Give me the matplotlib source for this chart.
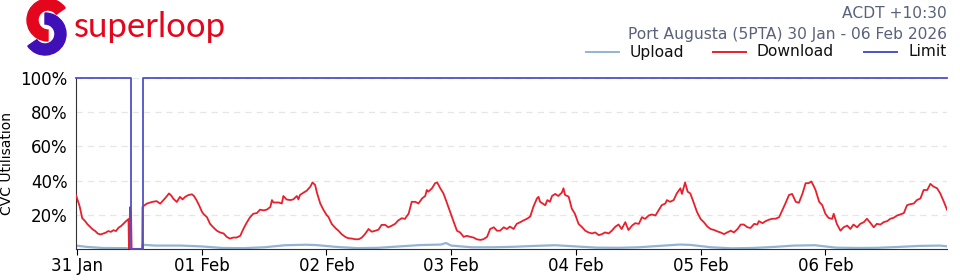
import matplotlib
matplotlib.use("Agg")
import matplotlib.pyplot as plt
import numpy as np
from matplotlib.patches import Wedge, Polygon

# hours since 31 Jan 00:00 (ACDT)
dl_hours = [-0.2, 0.5, 1.0, 1.5, 2.0, 2.5, 3.0, 3.5, 4.0, 4.5, 5.0, 5.5, 6.0, 6.5, 7.0, 7.5, 8.0, 8.5, 9.0, 9.5, 9.9,
            10.0, 10.2, 10.4, 10.5, 12.55,
            12.6, 12.75, 13.4, 14.4, 15.3, 16.0, 16.9, 17.7, 18.2, 18.5, 19.2, 19.8, 20.3, 20.8, 21.4, 22.1, 22.5, 23.0, 23.5,
            24.0, 24.3, 25.0, 25.6, 26.2, 26.9, 27.5, 28.2, 28.8, 29.4, 30.1, 30.7, 31.4, 32.0, 32.7, 33.3, 33.9, 34.6,
            35.2, 35.9, 36.5, 37.2, 37.5, 37.8, 38.8, 39.4, 39.7, 40.3, 41.0, 41.6, 42.3, 42.6, 42.9, 43.6, 44.2, 44.9,
            45.3, 45.8, 46.2, 46.8, 47.4,
            48.0, 48.4, 49.0, 49.7, 50.3, 50.9, 51.6, 52.2, 52.9, 53.5, 54.2, 54.8, 55.4, 56.1, 56.7, 57.4, 58.0, 58.6,
            59.3, 59.9, 60.6, 61.2, 61.8, 62.5, 63.1, 63.4, 63.8, 64.4, 65.1, 65.7, 66.4, 67.0, 67.3, 67.6, 68.3, 68.9,
            69.3, 69.9, 70.5, 71.1, 71.8,
            72.4, 73.1, 73.7, 74.4, 75.0, 75.7, 76.3, 76.9, 77.6, 78.2, 78.9, 79.5, 80.2, 80.8, 81.4, 82.1, 82.7, 83.3,
            84.0, 84.6, 85.3, 85.9, 86.6, 87.2, 87.8, 88.5, 88.8, 89.1, 90.1, 90.5, 91.0, 91.4, 92.0, 92.6, 93.3, 93.6,
            93.9, 94.6, 95.2, 95.8,
            96.5, 97.2, 97.8, 98.4, 99.1, 99.7, 100.4, 101.0, 101.6, 102.3, 102.9, 103.6, 104.2, 104.8, 105.5, 106.1,
            106.8, 107.4, 108.1, 108.7, 109.3, 110.0, 110.6, 111.3, 111.9, 112.5, 113.2, 113.5, 114.1, 114.8, 115.4,
            116.1, 116.4, 117.0, 117.5, 118.0, 118.6, 119.3,
            120.0, 120.6, 121.3, 121.9, 122.6, 123.2, 123.8, 124.5, 125.1, 125.8, 126.4, 127.1, 127.7, 128.3, 129.0,
            129.6, 130.3, 130.9, 131.2, 131.9, 132.5, 133.1, 133.8, 134.4, 135.1, 135.7, 136.3, 137.0, 137.6, 138.3,
            138.9, 139.6, 140.2, 140.8, 141.3, 141.8, 142.1, 142.8, 143.4,
            144.0, 144.6, 145.3, 145.6, 146.2, 146.9, 147.5, 148.2, 148.8, 149.4, 150.1, 150.7, 151.4, 152.0, 152.7,
            153.3, 153.9, 154.6, 155.2, 155.9, 156.5, 157.1, 157.8, 158.4, 159.1, 159.7, 160.3, 161.0, 161.6, 162.3,
            162.9, 163.6, 164.2, 164.8, 165.5, 166.1, 166.8, 167.4]
dl_values = [31.5, 25.0, 18.0, 16.5, 14.5, 13.0, 11.5, 10.5, 9.0, 8.5, 9.0, 9.5, 10.5, 10.0, 11.0, 10.5, 12.5, 13.5, 15.0, 16.5, 17.5,
             0.0, 24.5, 20.0, 0.0, 0.0,
             24.5, 25.0, 26.5, 27.5, 28.0, 26.5, 29.5, 32.5, 31.0, 29.5, 27.5, 30.5, 29.0, 30.5, 31.5, 32.0, 31.0, 28.5, 25.5,
             22.0, 20.6, 18.6, 14.7, 12.7, 10.7, 9.7, 9.1, 7.1, 6.1, 6.7, 6.7, 7.7, 11.7, 15.7, 18.6, 20.6, 21.0,
             23.0, 22.6, 23.0, 24.6, 28.6, 27.2, 27.2, 26.6, 31.0, 29.0, 28.6, 29.0, 31.0, 29.0, 31.6, 33.0, 34.1, 36.5,
             38.9, 37.5, 32.5, 26.6, 23.0,
             20.0, 18.6, 14.7, 12.3, 10.7, 8.7, 7.1, 6.3, 6.1, 5.7, 5.7, 6.7, 8.7, 11.7, 10.1, 10.7, 11.3, 14.1,
             14.1, 12.7, 13.7, 14.7, 16.7, 18.0, 17.6, 19.0, 20.6, 27.6, 27.6, 26.6, 29.6, 31.0, 34.5, 33.5, 35.5, 38.5,
             38.9, 35.5, 32.5, 27.6, 21.6,
             16.5, 10.7, 9.7, 7.1, 7.7, 7.1, 6.7, 5.7, 5.3, 5.7, 7.1, 11.7, 12.7, 10.7, 10.7, 12.7, 11.7, 13.1,
             11.7, 14.7, 15.7, 16.7, 17.7, 19.0, 24.6, 29.6, 30.5, 27.6, 25.6, 28.6, 27.6, 31.0, 32.2, 31.0, 33.0, 35.5,
             31.6, 30.6, 23.6, 20.6,
             14.7, 12.7, 10.7, 9.7, 9.1, 9.7, 8.1, 8.7, 9.7, 9.1, 10.7, 13.1, 14.3, 11.7, 15.7, 11.1,
             13.7, 15.1, 14.7, 18.6, 17.6, 19.6, 20.2, 19.6, 22.6, 25.6, 26.6, 28.6, 27.6, 28.6, 32.5,
             35.5, 32.2, 38.9, 33.5, 32.5, 27.6, 21.6,
             17.5, 15.7, 13.1, 11.7, 11.1, 10.3, 9.7, 8.7, 9.7, 10.7, 9.7, 11.7, 14.3, 14.3, 12.7,
             12.3, 14.7, 14.3, 16.3, 15.1, 16.3, 17.1, 17.7, 17.7, 18.6, 22.6, 26.6, 31.6, 32.2, 27.6,
             27.0, 32.5, 38.5, 38.5, 39.5, 36.5, 34.5, 27.6, 25.6,
             20.6, 18.2, 17.6, 20.6, 14.7, 10.7, 12.7, 13.7, 11.7, 14.3, 12.7, 14.7, 15.7, 17.7, 15.1,
             12.7, 14.7, 14.3, 15.7, 16.3, 17.7, 18.2, 19.6, 20.2, 21.0, 25.6, 26.2, 26.6, 28.6, 29.6,
             34.5, 34.5, 38.1, 36.5, 35.5, 32.5, 27.6, 23.0]

ul_hours = [-0.2, 2.0, 5.0, 9.5, 10.0, 10.5, 12.55, 12.6, 15.0, 20.0, 24.0, 28.0, 32.0, 36.0, 40.0, 44.0, 46.0,
            50.0, 54.0, 58.0, 62.0, 66.0, 70.0, 71.0, 72.0, 76.0, 80.0, 84.0, 88.0, 92.0, 96.0,
            100.0, 104.0, 108.0, 112.0, 116.0, 118.0, 122.0, 126.0, 130.0, 134.0, 138.0, 142.0,
            146.0, 150.0, 154.0, 158.0, 162.0, 166.0, 167.4]
ul_values = [2.0, 1.2, 0.6, 0.5, 0.0, 0.0, 0.0, 2.5, 2.0, 2.0, 1.5, 0.6, 0.5, 1.0, 2.2, 2.5, 2.3,
             1.2, 0.5, 0.7, 1.5, 2.3, 2.6, 3.5, 2.0, 1.0, 1.0, 1.3, 1.8, 2.2, 1.5,
             0.8, 0.7, 1.0, 1.8, 2.6, 2.4, 1.0, 0.4, 0.6, 1.2, 2.0, 2.2,
             0.8, 0.6, 0.7, 1.2, 1.8, 2.0, 1.6]

limit_hours = [-0.2, 10.4, 10.4, 12.7, 12.7, 167.4]
limit_values = [100, 100, 0, 0, 100, 100]

tick_hours = [0, 24, 48, 72, 96, 120, 144]
tick_labels = ["31 Jan", "01 Feb", "02 Feb", "03 Feb", "04 Feb", "05 Feb", "06 Feb"]
y_ticks = [20, 40, 60, 80, 100]
y_labels = ["20%", "40%", "60%", "80%", "100%"]

C_UP = "#93b4d2"
C_DN = "#e8202c"
C_LIM = "#5050c8"
C_RED = "#e3061c"
C_PURPLE = "#3f0fb7"

fig = plt.figure(figsize=(9.6, 2.8), dpi=100)
ax = fig.add_axes([76/960, 1 - 249/280, (947-76)/960, (249-78)/280])
ax.plot(ul_hours, ul_values, color=C_UP, lw=1.6, zorder=2)
ax.plot(dl_hours, dl_values, color=C_DN, lw=1.3, zorder=3)
ax.plot(limit_hours, limit_values, color=C_LIM, lw=1.3, zorder=4, clip_on=False)
ax.set_xlim(-0.2, 167.4)
ax.set_ylim(0, 100)
ax.set_yticks(y_ticks)
ax.set_yticklabels(y_labels, fontsize=12)
ax.set_xticks(tick_hours)
ax.set_xticklabels(tick_labels, fontsize=12)
ax.tick_params(axis="y", length=0, pad=6)
ax.tick_params(axis="x", length=4, pad=2)
ax.yaxis.grid(True, linestyle=(0, (5, 4)), color="#e4e6ea", lw=0.9)
ax.set_axisbelow(True)
for s in ["top", "right"]:
    ax.spines[s].set_visible(False)
ax.spines["left"].set_color("#333333")
ax.spines["bottom"].set_color("#333333")
ax.set_ylabel("CVC Utilisation", fontsize=10)
ax.yaxis.set_label_coords((14 - 76) / 871, 0.5)

# header texts
fig.text(947/960, 1 - 14/280, "ACDT +10:30", ha="right", va="center", fontsize=11.2, color="#59627a")
fig.text(947/960, 1 - 35/280, "Port Augusta (5PTA) 30 Jan - 06 Feb 2026", ha="right", va="center",
         fontsize=11.2, color="#59627a")

# legend
leg_items = [("Upload", C_UP, 586), ("Download", C_DN, 713), ("Limit", C_LIM, 864)]
for lab, col, x0 in leg_items:
    fig.add_artist(plt.Line2D([x0/960, (x0+33)/960], [1 - 52/280]*2, color=col, lw=1.4))
    fig.text((x0 + 44)/960, 1 - 52/280, lab, ha="left", va="center", fontsize=11.2, color="#111111")

# logo (y-up pixel coordinates; image y = 60 - y)
lax = fig.add_axes([0, 1 - 60/280, 80/960, 60/280])
lax.set_xlim(0, 80)
lax.set_ylim(0, 60)
lax.set_aspect("equal")
lax.axis("off")
lax.add_patch(Wedge((48, 40), 21, 35, 270, width=11, color=C_RED))
lax.add_patch(Wedge((45, 26), 21, -145, 90, width=11, color=C_PURPLE))
fig.text(74/960, 1 - 27/280, "superloop", ha="left", va="center", fontsize=25, color=C_RED,
         family="Lato")

fig.savefig("out.png", dpi=100)
